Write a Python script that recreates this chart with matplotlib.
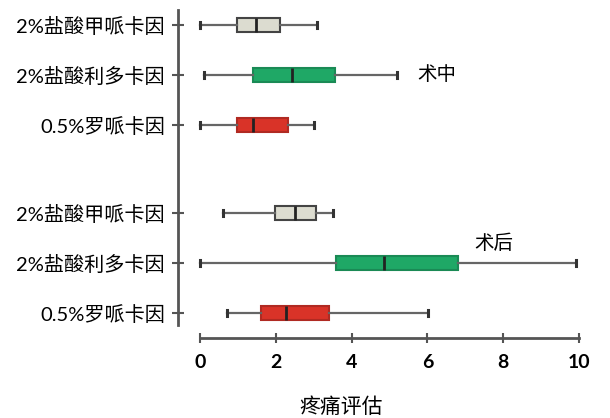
import matplotlib
matplotlib.use("Agg")
import matplotlib.pyplot as plt

plt.rcParams['font.family'] = ['Lato', 'Noto Sans CJK SC', 'DejaVu Sans']

labels = ["2%盐酸甲哌卡因", "2%盐酸利多卡因", "0.5%罗哌卡因",
          "2%盐酸甲哌卡因", "2%盐酸利多卡因", "0.5%罗哌卡因"]
whislo = [0.0, 0.1, 0.0, 0.6, 0.0, 0.7]
q1 = [0.98, 1.39, 0.98, 1.97, 3.59, 1.6]
med = [1.48, 2.43, 1.4, 2.52, 4.85, 2.26]
q3 = [2.12, 3.55, 2.32, 3.07, 6.81, 3.4]
whishi = [3.09, 5.2, 3.0, 3.5, 9.93, 6.01]
positions = [0, 1, 2, 3.76, 4.76, 5.76]
colors = ["#dcdcd0", "#1fa866", "#d93328", "#dcdcd0", "#1fa866", "#d93328"]
edges = ["#444444", "#1a8a55", "#b02a22", "#444444", "#1a8a55", "#b02a22"]
xticks = [0, 2, 4, 6, 8, 10]
group_text = ["术中", "术后"]

fig = plt.figure(figsize=(6.1, 4.18), dpi=100)
ax = fig.add_axes([178/610, 1-338/418, 412/610, 328/418])

stats = []
for i in range(len(labels)):
    stats.append(dict(whislo=whislo[i], q1=q1[i], med=med[i], q3=q3[i],
                      whishi=whishi[i], label=labels[i]))

bp = ax.bxp(stats, positions=positions, vert=False, widths=0.27,
            patch_artist=True, showfliers=False, capwidths=0.13,
            whiskerprops=dict(color="#666666", lw=1.6),
            capprops=dict(color="#333333", lw=2.2),
            medianprops=dict(color="#222222", lw=2))
for patch, c, e in zip(bp['boxes'], colors, edges):
    patch.set_facecolor(c)
    patch.set_edgecolor(e)
    patch.set_linewidth(1.5)

ax.set_xlim(-0.58, 10.29)
ax.set_ylim(6.26, -0.3)
ax.set_xticks(xticks)
ax.set_xticklabels([str(t) for t in xticks], fontsize=14, fontweight='bold')
ax.set_yticks(positions)
ax.set_yticklabels(labels, fontsize=14.5)

for s in ['top', 'right']:
    ax.spines[s].set_visible(False)
ax.spines['left'].set_bounds(-0.3, 6.0)
ax.spines['bottom'].set_bounds(0, 10)
for s in ['left', 'bottom']:
    ax.spines[s].set_color("#555555")
    ax.spines[s].set_linewidth(2)
ax.tick_params(axis='y', direction='inout', length=9, width=1.5, color="#555555", pad=5)
ax.tick_params(axis='x', direction='inout', length=7, width=1.5, color="#555555", pad=8)

ax.text(5.73, 1, group_text[0], fontsize=14, va='center', ha='left',
        family=['Noto Sans CJK SC'])
ax.text(7.23, 4.36, group_text[1], fontsize=14, va='center', ha='left',
        family=['Noto Sans CJK SC'])

fig.text(341/610, 1-407/418, "疼痛评估", fontsize=15, ha='center', va='center',
         family=['Noto Sans CJK SC'])

fig.savefig("out.png", dpi=100)
